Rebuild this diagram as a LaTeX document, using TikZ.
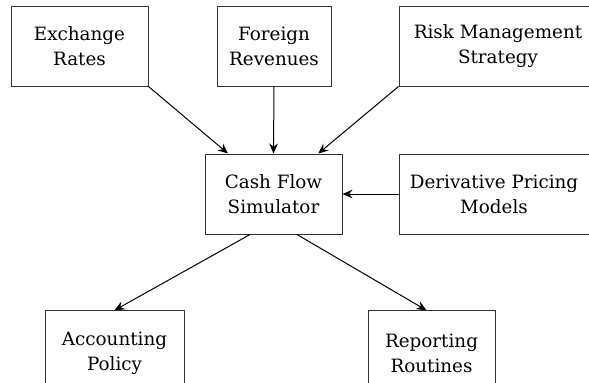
\documentclass[tikz,border=0pt]{standalone}
\usepackage{fontspec}
\setmainfont{DejaVu Serif}
\usetikzlibrary{calc, arrows.meta}

\tikzset{
  box/.style={draw=black!80, align=center, inner sep=0pt, minimum height=60pt,
    font=\fontsize{13.75}{18.75}\selectfont}
}

\begin{document}
\begin{tikzpicture}[>={Stealth[length=7.5pt, width=6.5pt, inset=2.5pt]}, x=0.75pt, y=-0.75pt, line width=0.75pt]
        \useasboundingbox (0,0) rectangle (589,382);
        \clip (0,0) rectangle (589,382);
		\node[box, minimum width=102.75pt] (exch) at (79.5, 46) {Exchange\\Rates};
		\node[box, minimum width=85.5pt] (forex) at (274, 46) {Foreign\\Revenues};
		\node[box, minimum width=148.5pt] (risk) at (498, 46) {Risk Management\\Strategy};
		\node[box, minimum width=102.75pt] (cash) at (273.5, 194) {Cash Flow\\Simulator};
		\node[box, minimum width=142.5pt] (deriv) at (494, 194) {Derivative Pricing\\Models};
		\node[box, minimum width=104.25pt, minimum height=64pt] (acct) at (114.5, 353.5) {Accounting\\Policy};
		\node[box, minimum width=95.25pt, minimum height=64pt] (report) at (431.5, 353.5) {Reporting\\Routines};
		% inputs
		\draw[->] (exch.south east) to ($(cash.north west)!0.17!(cash.north east)$);
		\draw[->] (forex.south) to (cash.north);
		\draw[->] (risk.south west) to ($(cash.north west)!0.825!(cash.north east)$);
		\draw[->] (deriv.west) to (cash.east);
		% outputs
		\draw[->] ($(cash.south west)!0.33!(cash.south east)$) to (acct.north);
		\draw[->] ($(cash.south west)!0.67!(cash.south east)$) to ($(report.north)+(-5,0)$);
    \end{tikzpicture}
\end{document}
